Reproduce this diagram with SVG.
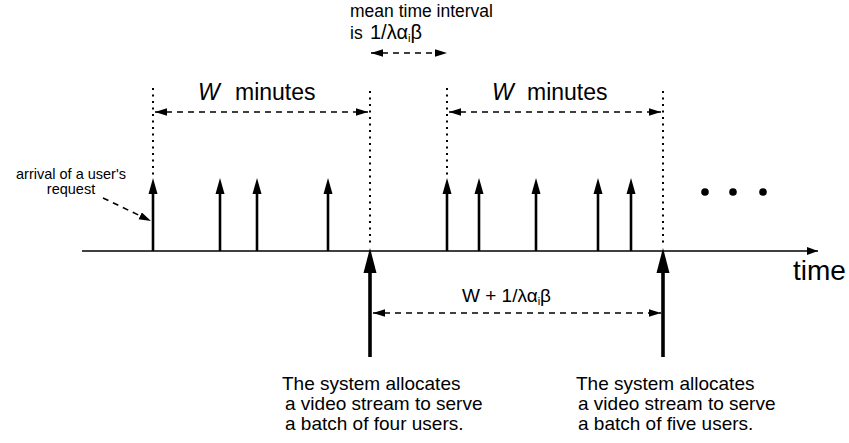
<svg xmlns="http://www.w3.org/2000/svg" xmlns:xlink="http://www.w3.org/1999/xlink" width="849" height="443" viewBox="0 0 849 443">
  <style>
    text { font-family: "Liberation Sans", Arial, sans-serif; fill: #000; }
    .axis { stroke: #000; stroke-width: 1.6; fill: none; }
    .req { stroke: #000; stroke-width: 2.6; fill: none; }
    .batch { stroke: #000; stroke-width: 3.6; fill: none; }
    .dot { stroke: #000; stroke-width: 2; stroke-dasharray: 2 4.5; fill: none; }
    .dash { stroke: #000; stroke-width: 1.6; stroke-dasharray: 6 5; fill: none; }
    .lbl { font-size: 19px; }
    .small { font-size: 14.5px; text-anchor: middle; }
  </style>
  <defs>
    <marker id="dh" markerUnits="userSpaceOnUse" markerWidth="13" markerHeight="8" refX="12" refY="3.75" orient="auto-start-reverse">
      <path d="M0,0 L12,3.75 L0,7.5 z" fill="#000"/>
    </marker>
    <marker id="ah" markerUnits="userSpaceOnUse" markerWidth="12" markerHeight="10" refX="11" refY="4" orient="auto">
      <path d="M0,0 L11,4 L0,8 z" fill="#000"/>
    </marker>
    <path id="upHead" d="M0,0 L-4.5,16 L4.5,16 z" fill="#000"/>
    <path id="bigHead" d="M0,0 L-6.5,25 L6.5,25 z" fill="#000"/>
  </defs>

  <!-- time axis -->
  <g id="axis">
    <line class="axis" x1="82" y1="251" x2="818" y2="251" marker-end="url(#ah)"/>
    <text x="793" y="280" font-size="28">time</text>
  </g>

  <!-- window boundaries (dotted) -->
  <g id="boundaries">
    <line class="dot" x1="153" y1="88" x2="153" y2="176"/>
    <line class="dot" x1="370" y1="91" x2="370" y2="246"/>
    <line class="dot" x1="447" y1="88" x2="447" y2="176"/>
    <line class="dot" x1="663" y1="91" x2="663" y2="246"/>
  </g>

  <!-- user requests -->
  <g id="requests-1">
    <line class="req" x1="153" y1="251" x2="153" y2="190"/><use xlink:href="#upHead" x="153" y="178"/>
    <line class="req" x1="220" y1="251" x2="220" y2="190"/><use xlink:href="#upHead" x="220" y="178"/>
    <line class="req" x1="257" y1="251" x2="257" y2="190"/><use xlink:href="#upHead" x="257" y="178"/>
    <line class="req" x1="328" y1="251" x2="328" y2="190"/><use xlink:href="#upHead" x="328" y="178"/>
  </g>
  <g id="requests-2">
    <line class="req" x1="447" y1="251" x2="447" y2="190"/><use xlink:href="#upHead" x="447" y="178"/>
    <line class="req" x1="479" y1="251" x2="479" y2="190"/><use xlink:href="#upHead" x="479" y="178"/>
    <line class="req" x1="536" y1="251" x2="536" y2="190"/><use xlink:href="#upHead" x="536" y="178"/>
    <line class="req" x1="598" y1="251" x2="598" y2="190"/><use xlink:href="#upHead" x="598" y="178"/>
    <line class="req" x1="631" y1="251" x2="631" y2="190"/><use xlink:href="#upHead" x="631" y="178"/>
  </g>

  <!-- continuation dots -->
  <g id="ellipsis">
    <circle cx="705" cy="192" r="3.8"/>
    <circle cx="733" cy="192" r="3.8"/>
    <circle cx="763" cy="192" r="3.8"/>
  </g>

  <!-- stream allocation events -->
  <g id="batch-1">
    <line class="batch" x1="370" y1="268" x2="370" y2="357"/><use xlink:href="#bigHead" x="370" y="248"/>
    <text class="lbl" x="282" y="390">The system allocates</text>
    <text class="lbl" x="285" y="410">a video stream to serve</text>
    <text class="lbl" x="285" y="430">a batch of four users.</text>
  </g>
  <g id="batch-2">
    <line class="batch" x1="663" y1="268" x2="663" y2="357"/><use xlink:href="#bigHead" x="663" y="248"/>
    <text class="lbl" x="576" y="390">The system allocates</text>
    <text class="lbl" x="578" y="410">a video stream to serve</text>
    <text class="lbl" x="578" y="430">a batch of five users.</text>
  </g>

  <!-- arrival annotation -->
  <g id="arrival-label">
    <text class="small" x="71" y="179">arrival of a user's</text>
    <text class="small" x="71" y="194">request</text>
  </g>

  <!-- interval labels -->
  <g id="window-1-label">
    <text x="198" y="100" font-size="23"><tspan font-style="italic">W</tspan><tspan x="235">minutes</tspan></text>
  </g>
  <g id="window-2-label">
    <text x="492" y="100" font-size="23"><tspan font-style="italic">W</tspan><tspan x="527">minutes</tspan></text>
  </g>
  <g id="gap-label">
    <text x="350" y="17" font-size="17.5">mean time interval</text>
    <text x="350" y="39" font-size="17.5">is <tspan x="370" font-size="20">1/λα</tspan><tspan font-size="11" dy="3">i</tspan><tspan font-size="20" dy="-3">β</tspan></text>
  </g>
  <g id="cycle-label">
    <text x="462" y="302" font-size="19">W + 1/λα<tspan font-size="11" dy="3">i</tspan><tspan dy="-3">β</tspan></text>
  </g>

  <!-- dimension connectors -->
  <g id="connectors">
    <line class="dash" x1="155" y1="112" x2="368" y2="112" marker-start="url(#dh)" marker-end="url(#dh)"/>
    <line class="dash" x1="449" y1="112" x2="661" y2="112" marker-start="url(#dh)" marker-end="url(#dh)"/>
    <line class="dash" x1="371" y1="53" x2="447" y2="53" marker-start="url(#dh)" marker-end="url(#dh)"/>
    <line class="dash" x1="373" y1="313" x2="661" y2="313" marker-start="url(#dh)" marker-end="url(#dh)"/>
    <line class="dash" x1="103" y1="198" x2="151" y2="221" marker-end="url(#dh)"/>
  </g>
</svg>
